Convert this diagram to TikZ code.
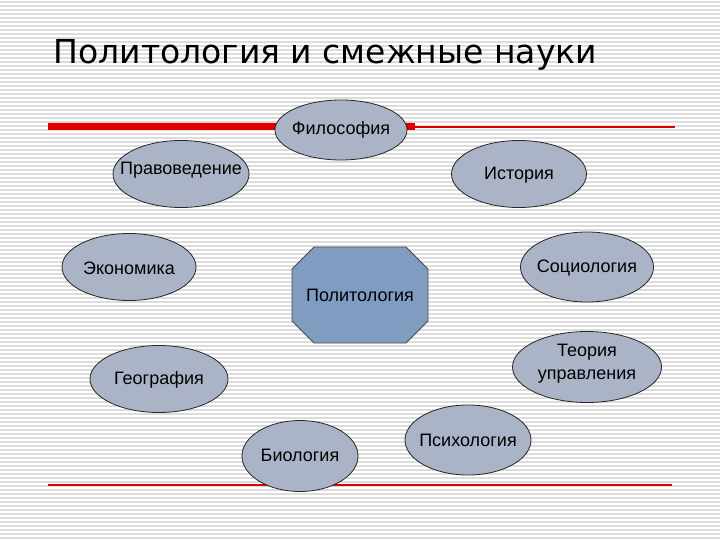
\documentclass[tikz,border=0pt]{standalone}
\usepackage{fontspec}
\setmainfont{Liberation Sans}
\newfontfamily\titlefont{DejaVu Sans}
\usetikzlibrary{shapes.geometric}
\definecolor{ellfill}{HTML}{AAB4C6}
\definecolor{octfill}{HTML}{809CC0}
\definecolor{stripe}{HTML}{DCDCDC}
\definecolor{redl}{HTML}{E00000}
\begin{document}
\begin{tikzpicture}[x=1pt,y=-1pt,
  ell/.style={draw=black!85,line width=0.8pt,fill=ellfill,ellipse,inner sep=0pt},
  lbl/.style={font=\fontsize{18}{20}\selectfont,align=center}]
\useasboundingbox (0,0) rectangle (720,540);
\fill[white] (0,0) rectangle (720,540);
\foreach \y in {2,6,...,538} \draw[stripe,line width=1.6pt] (0,\y) -- (720,\y);
\node[anchor=west,font=\titlefont\fontsize{33}{36}\selectfont] (title) at (50,55) {Политология и смежные науки};
\coordinate (r1) at (48,127); \coordinate (r2) at (415,127); \coordinate (r3) at (675,127);
\draw[redl,line width=1.2pt] (r2) -- (r3);
\draw[redl,line width=7pt] (r1) -- (r2);
\coordinate (b1) at (48,485); \coordinate (b2) at (672,485);
\draw[redl,line width=1.2pt] (b1) -- (b2);
\node[ell,minimum width=132,minimum height=60] (fil) at (341,130) {};
\node[lbl] at (341,130) {Философия};
\node[ell,minimum width=136,minimum height=67] (prav) at (181,174) {};
\node[lbl] at (181,170) {Правоведение};
\node[ell,minimum width=135,minimum height=67] (ist) at (519,174) {};
\node[lbl] at (519,175) {История};
\node[ell,minimum width=134,minimum height=67] (eko) at (129,267) {};
\node[lbl] at (129,268) {Экономика};
\node[ell,minimum width=133,minimum height=70] (soc) at (587,267) {};
\node[lbl] at (587,268) {Социология};
\draw[draw=black!70,line width=0.8pt,fill=octfill] (314,247) -- (406,247) -- (428,269) -- (428,321) -- (406,343) -- (314,343) -- (292,321) -- (292,269) -- cycle;
\node[lbl] (pol) at (360,295) {Политология};
\node[ell,minimum width=149,minimum height=71] (teo) at (587,367) {};
\node[lbl,font=\fontsize{18}{23}\selectfont] at (587,364) {Теория\\управления};
\node[ell,minimum width=138,minimum height=67] (geo) at (159,379) {};
\node[lbl] at (159,380) {География};
\node[ell,minimum width=116,minimum height=71] (bio) at (300,456) {};
\node[lbl] at (300,455) {Биология};
\node[ell,minimum width=126,minimum height=70] (psi) at (468,440) {};
\node[lbl] at (468,440) {Психология};
\end{tikzpicture}
\end{document}
